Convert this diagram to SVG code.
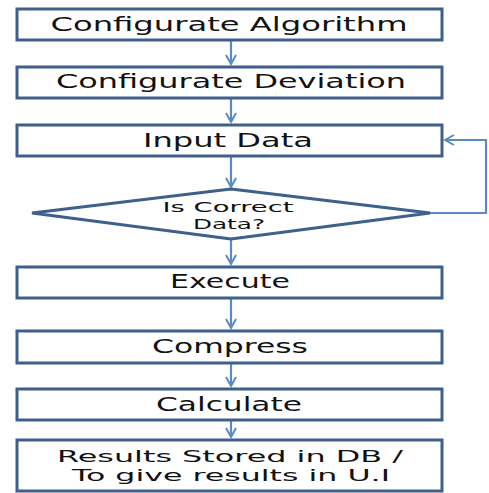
<svg xmlns="http://www.w3.org/2000/svg" width="489" height="493" viewBox="0 0 489 493">
<style>
.box{fill:#fff;stroke:#3F5F8C;stroke-width:3}
.t{font-family:"DejaVu Sans","Liberation Sans",sans-serif;font-size:20px;fill:#111;text-anchor:middle}
.s{font-size:14px}
.r{font-size:15px}
.c{fill:none;stroke:#5A8AC6;stroke-width:2.2}
</style>
<defs>
<marker id="a" markerWidth="12" markerHeight="12" refX="10" refY="6" orient="auto" markerUnits="userSpaceOnUse">
<path d="M1,1 L10,6 L1,11" fill="none" stroke="#5A8AC6" stroke-width="2"/>
</marker>
</defs>
<rect width="489" height="493" fill="#fff"/>
<g id="connectors">
<line class="c" x1="231" y1="41" x2="231" y2="64" marker-end="url(#a)"/>
<line class="c" x1="231" y1="99" x2="231" y2="122" marker-end="url(#a)"/>
<line class="c" x1="231" y1="157" x2="231" y2="187" marker-end="url(#a)"/>
<line class="c" x1="231" y1="239" x2="231" y2="264" marker-end="url(#a)"/>
<line class="c" x1="231" y1="299" x2="231" y2="328" marker-end="url(#a)"/>
<line class="c" x1="231" y1="364" x2="231" y2="386" marker-end="url(#a)"/>
<line class="c" x1="231" y1="421" x2="231" y2="437" marker-end="url(#a)"/>
<polyline class="c" points="430,213 486,213 486,140 445,140" marker-end="url(#a)"/>
</g>
<g id="n1"><rect class="box" x="17" y="9" width="425" height="31"/><text class="t" x="229" y="31" textLength="357" lengthAdjust="spacingAndGlyphs">Configurate Algorithm</text></g>
<g id="n2"><rect class="box" x="17" y="67" width="425" height="31"/><text class="t" x="231" y="88" textLength="350" lengthAdjust="spacingAndGlyphs">Configurate Deviation</text></g>
<g id="n3"><rect class="box" x="17" y="125" width="425" height="31"/><text class="t" x="228" y="147" textLength="170" lengthAdjust="spacingAndGlyphs">Input Data</text></g>
<g id="n4"><polygon points="231,189 430,213 231,239 32,213" fill="#fff" stroke="#3F5F8C" stroke-width="3"/><text class="t s" x="228" y="212" textLength="131" lengthAdjust="spacingAndGlyphs">Is Correct</text><text class="t s" x="229" y="229" textLength="72" lengthAdjust="spacingAndGlyphs">Data?</text></g>
<g id="n5"><rect class="box" x="17" y="267" width="425" height="31"/><text class="t" x="230" y="288" textLength="120" lengthAdjust="spacingAndGlyphs">Execute</text></g>
<g id="n6"><rect class="box" x="17" y="331" width="425" height="32"/><text class="t" x="230" y="353" textLength="156" lengthAdjust="spacingAndGlyphs">Compress</text></g>
<g id="n7"><rect class="box" x="17" y="389" width="425" height="31"/><text class="t" x="229" y="411" textLength="146" lengthAdjust="spacingAndGlyphs">Calculate</text></g>
<g id="n8"><rect class="box" x="17" y="440" width="425" height="51"/><text class="t r" x="230" y="462" textLength="346" lengthAdjust="spacingAndGlyphs">Results Stored in DB /</text><text class="t r" x="231" y="481" textLength="318" lengthAdjust="spacingAndGlyphs">To give results in U.I</text></g>
</svg>
